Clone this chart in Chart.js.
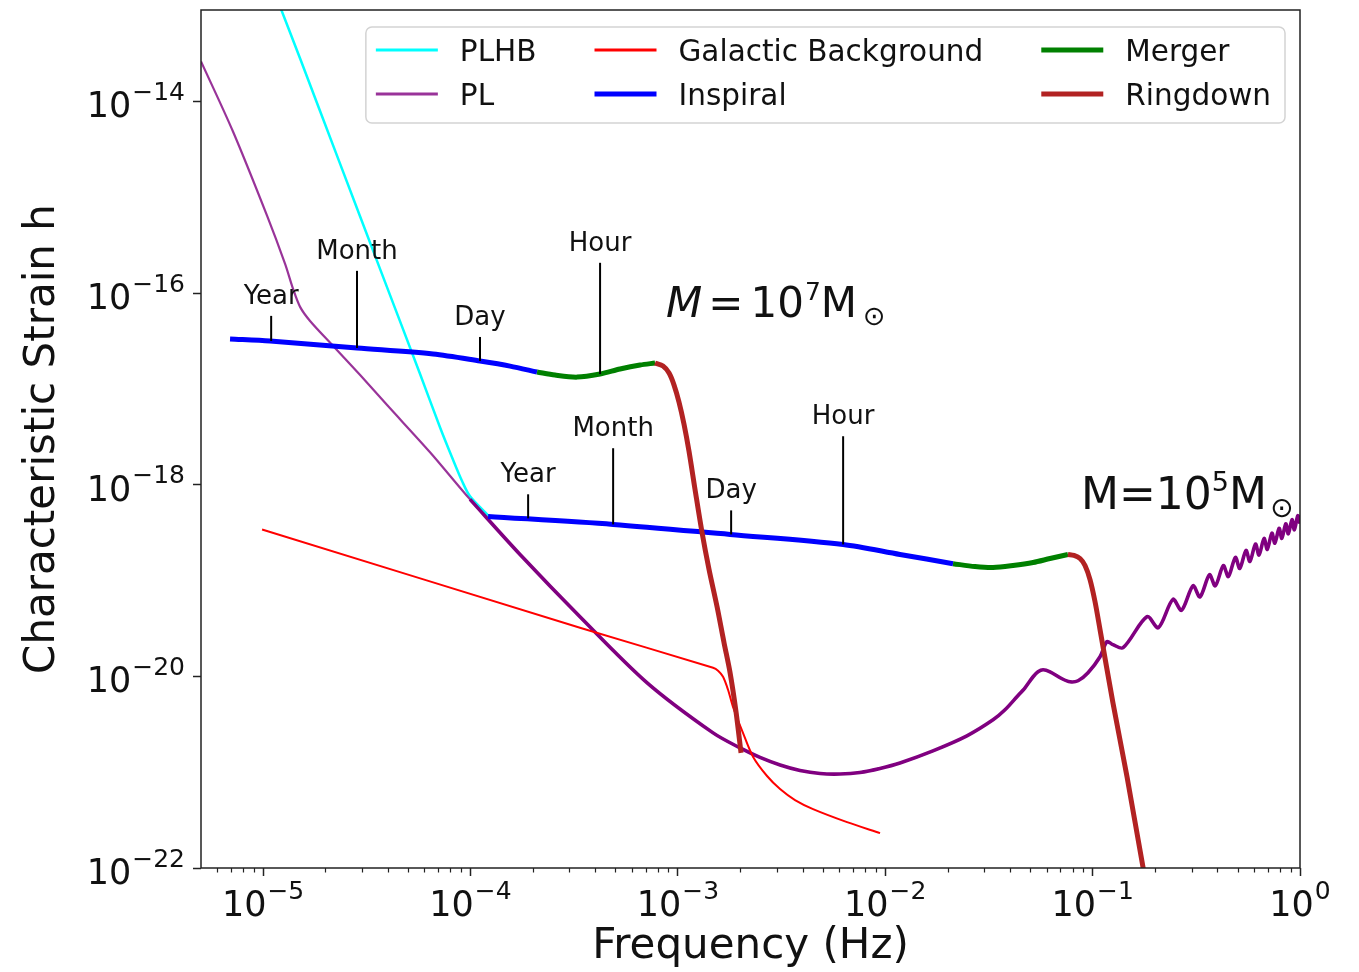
<!DOCTYPE html>
<html>
<head>
<meta charset="utf-8">
<script src="https://cdn.jsdelivr.net/npm/chart.js@4.4.1/dist/chart.umd.min.js"></script>
<style>
  html, body { margin: 0; padding: 0; background: #fff; }
  #wrap { width: 1359px; height: 972px; }
</style>
</head>
<body>
<div id="wrap"><canvas id="strainChart" width="1359" height="972"></canvas></div>
<script>
// frequency in Hz, characteristic strain (dimensionless)

// PL with high-frequency background
var plhbFreq = [1.180e-5, 1.507e-5, 2.350e-5, 3.664e-5, 5.715e-5, 7.129e-5, 8.147e-5, 9.120e-5, 9.954e-5, 1.245e-4]
var plhbH    = [1.112e-13, 2.818e-14, 2.244e-15, 1.791e-16, 1.429e-17, 3.981e-18, 1.936e-18, 1.086e-18, 7.568e-19, 4.560e-19]

// power-law sensitivity
var plFreq = [5.02e-6, 7.16e-6, 1.045e-5, 1.277e-5, 1.395e-5, 1.508e-5, 1.685e-5, 2.178e-5, 2.938e-5, 3.963e-5,
  6.383e-5, 9.954e-5, 1.734e-4, 3.373e-4, 7.112e-4, 1.479e-3, 1.995e-3, 2.490e-3, 3.112e-3, 3.883e-3,
  4.853e-3, 6.054e-3, 7.551e-3, 9.438e-3, 1.178e-2, 1.698e-2, 2.477e-2, 3.311e-2, 3.780e-2, 4.315e-2,
  4.721e-2, 5.164e-2, 5.454e-2, 5.768e-2, 6.232e-2, 7.121e-2, 7.780e-2, 8.504e-2, 9.502e-2, 0.1086,
  0.1172, 0.1253, 0.1403, 0.1830, 0.2074, 0.2440, 0.2684, 0.3050, 0.3294, 0.3660,
  0.3904, 0.4270, 0.4514, 0.4880, 0.5124, 0.5490, 0.5734, 0.6100, 0.6344, 0.6710,
  0.6954, 0.7320, 0.7564, 0.7930, 0.8174, 0.8540, 0.8784, 0.9150, 0.9394, 0.9760,
  1.0]
var plH = [2.618e-14, 4.853e-15, 6.427e-16, 2.018e-16, 1.107e-16, 7.178e-17, 5.117e-17, 2.805e-17, 1.393e-17, 6.776e-18,
  2.183e-18, 7.031e-19, 1.871e-19, 4.198e-20, 8.570e-21, 2.570e-21, 1.791e-21, 1.426e-21, 1.189e-21, 1.042e-21,
  9.683e-22, 9.572e-22, 9.931e-22, 1.094e-21, 1.247e-21, 1.667e-21, 2.393e-21, 3.516e-21, 4.477e-21, 6.124e-21,
  7.603e-21, 9.908e-21, 1.117e-20, 1.172e-20, 1.117e-20, 9.441e-21, 8.770e-21, 8.995e-21, 1.091e-20, 1.603e-20,
  2.301e-20, 2.143e-20, 1.991e-20, 4.198e-20, 3.221e-20, 6.368e-20, 4.887e-20, 8.810e-20, 6.745e-20, 1.148e-19,
  8.810e-20, 1.432e-19, 1.099e-19, 1.742e-19, 1.337e-19, 2.061e-19, 1.581e-19, 2.404e-19, 1.845e-19, 2.754e-19,
  2.113e-19, 3.126e-19, 2.455e-19, 3.508e-19, 2.754e-19, 3.908e-19, 3.069e-19, 4.315e-19, 3.388e-19, 4.742e-19,
  3.945e-19]

// galactic confusion background
var galFreq = [9.89e-6, 3.373e-4, 1.479e-3, 1.563e-3, 1.652e-3, 1.746e-3, 1.845e-3, 2.061e-3, 2.307e-3, 2.692e-3,
  3.111e-3, 3.673e-3, 4.487e-3, 6.546e-3, 9.441e-3]
var galH    = [3.412e-19, 3.221e-20, 1.230e-20, 1.146e-20, 9.908e-21, 7.244e-21, 4.808e-21, 2.570e-21, 1.442e-21, 9.120e-22,
  6.668e-22, 5.117e-22, 4.121e-22, 3.013e-22, 2.312e-22]

// M = 1e7 Msun binary
var insp7Freq = [6.93e-6, 1.081e-5, 2.838e-5, 6.604e-5, 1.112e-4, 1.552e-4, 2.094e-4]
var insp7H    = [3.319e-17, 3.162e-17, 2.673e-17, 2.312e-17, 1.954e-17, 1.730e-17, 1.500e-17]
var merg7Freq = [2.094e-4, 2.558e-4, 3.266e-4, 4.217e-4, 5.264e-4, 6.574e-4, 7.762e-4]
var merg7H    = [1.500e-17, 1.393e-17, 1.327e-17, 1.429e-17, 1.611e-17, 1.774e-17, 1.862e-17]
var ring7Freq = [7.762e-4, 8.484e-4, 9.071e-4, 9.588e-4, 1.013e-3, 1.071e-3, 1.132e-3, 1.210e-3, 1.308e-3, 1.414e-3,
  1.545e-3, 1.670e-3, 1.786e-3, 1.908e-3, 2.017e-3]
var ring7H    = [1.862e-17, 1.730e-17, 1.462e-17, 1.096e-17, 7.278e-18, 4.285e-18, 2.234e-18, 8.954e-19, 3.177e-19, 1.303e-19,
  5.346e-20, 2.244e-20, 1.091e-20, 4.266e-21, 1.589e-21]

// M = 1e5 Msun binary
var insp5Freq = [1.216e-4, 4.875e-4, 1.786e-3, 6.266e-3, 1.178e-2, 2.123e-2]
var insp5H    = [4.667e-19, 3.855e-19, 3.027e-19, 2.382e-19, 1.871e-19, 1.500e-19]
var merg5Freq = [2.123e-2, 2.710e-2, 3.311e-2, 4.131e-2, 5.164e-2, 6.232e-2, 7.603e-2]
var merg5H    = [1.500e-19, 1.400e-19, 1.368e-19, 1.435e-19, 1.542e-19, 1.698e-19, 1.871e-19]
var ring5Freq = [7.603e-2, 8.134e-2, 8.696e-2, 9.192e-2, 9.716e-2, 0.1027, 0.1086, 0.1253, 0.1466, 0.1750, 0.1807]
var ring5H    = [1.871e-19, 1.828e-19, 1.698e-19, 1.435e-19, 1.023e-19, 6.026e-20, 3.069e-20, 5.297e-21, 8.913e-22, 1.019e-22, 7.413e-23]

// time-before-merger markers on the inspirals
var markerNames = ['Year', 'Month', 'Day', 'Hour']
var mark7Freq = [1.094e-5, 2.838e-5, 1.112e-4, 4.217e-4]
var mark7Top  = [5.781e-17, 1.706e-16, 3.483e-17, 2.070e-16]
var mark7Base = [3.162e-17, 2.673e-17, 1.954e-17, 1.429e-17]
var mark5Freq = [1.897e-4, 4.875e-4, 1.807e-3, 6.266e-3]
var mark5Top  = [7.943e-19, 2.404e-18, 5.395e-19, 3.206e-18]
var mark5Base = [4.457e-19, 3.855e-19, 3.027e-19, 2.382e-19]

// mass labels: [freq, strain] of the text start
var mass7At = [8.77e-4, 5.64e-17]
var mass5At = [0.0879, 5.53e-19]

// axis decades that carry labels
var xTickExps = [-5, -4, -3, -2, -1, 0]
var yTickExps = [-14, -16, -18, -20, -22]

var legendOrder = ['PLHB', 'PL', 'Galactic Background', 'Inspiral', 'Merger', 'Ringdown']

var FONT = 'DejaVu Sans'
var INK = '#111'

function pts(freq, h) {
  return freq.map(function(f, i) { return {x: f, y: h[i]} })
}

function curve(label, freq, h, color, width, order) {
  return {
    label: label, data: pts(freq, h), borderColor: color, backgroundColor: color,
    borderWidth: width, pointRadius: 0, fill: false, order: order, clip: 0,
    tension: 0.3, borderJoinStyle: 'round'
  }
}

var datasets = [
  curve('PLHB', plhbFreq, plhbH, '#00ffff', 2.5, 90),
  curve('PL', plFreq, plH, 'rgba(128,0,128,0.8)', 2.2, 80),
  curve('_sens', plFreq.slice(11), plH.slice(11), '#800080', 3.6, 75),
  curve('Galactic Background', galFreq, galH, '#ff0000', 2, 70),
  curve('Inspiral', insp5Freq, insp5H, '#0000ff', 5, 60),
  curve('Merger', merg5Freq, merg5H, '#008000', 5, 59),
  curve('Ringdown', ring5Freq, ring5H, '#b22222', 5, 58),
  curve('Inspiral', insp7Freq, insp7H, '#0000ff', 5, 50),
  curve('Merger', merg7Freq, merg7H, '#008000', 5, 49),
  curve('Ringdown', ring7Freq, ring7H, '#b22222', 5, 48)
]

// vertical marker ticks
function addMarkers(freq, base, top) {
  freq.forEach(function(f, i) {
    datasets.push({
      label: '_marker', data: [{x: f, y: base[i]}, {x: f, y: top[i]}],
      borderColor: '#000', borderWidth: 2, pointRadius: 0, order: 10, clip: 0
    })
  })
}
addMarkers(mark7Freq, mark7Base, mark7Top)
addMarkers(mark5Freq, mark5Base, mark5Top)

// 10 with a raised exponent
function drawPower(ctx, exp, x, y, align, size) {
  var supSize = Math.round(size * 0.7)
  var sup = (exp < 0 ? '\u2212' : '') + Math.abs(exp)
  ctx.font = size + 'px ' + FONT
  var wb = ctx.measureText('10').width
  ctx.font = supSize + 'px ' + FONT
  var ws = ctx.measureText(sup).width
  var left = align === 'right' ? x - wb - ws - 1 : x - (wb + ws + 1) / 2
  ctx.font = size + 'px ' + FONT
  ctx.fillText('10', left, y)
  ctx.font = supSize + 'px ' + FONT
  ctx.fillText(sup, left + wb + 1, y - size * 0.5)
}

function drawPieces(ctx, x, y, pieces) {
  var pen = x
  pieces.forEach(function(p) {
    pen += p.gap || 0
    ctx.font = (p.italic ? 'italic ' : '') + p.size + 'px ' + FONT
    ctx.fillText(p.t, pen, y + (p.dy || 0))
    pen += ctx.measureText(p.t).width
  })
}

var decor = {
  id: 'decor',
  afterDatasetsDraw: function(chart) {
    var ctx = chart.ctx, area = chart.chartArea
    var xs = chart.scales.x, ys = chart.scales.y
    ctx.save()
    ctx.fillStyle = INK
    ctx.textBaseline = 'alphabetic'

    // marker names above each tick
    ctx.font = '26px ' + FONT
    ctx.textAlign = 'center'
    function names(freq, top) {
      freq.forEach(function(f, i) {
        ctx.fillText(markerNames[i], xs.getPixelForValue(f), ys.getPixelForValue(top[i]) - 12)
      })
    }
    names(mark7Freq, mark7Top)
    names(mark5Freq, mark5Top)

    // mass labels
    ctx.textAlign = 'left'
    drawPieces(ctx, xs.getPixelForValue(mass7At[0]), ys.getPixelForValue(mass7At[1]), [
      {t: 'M', size: 42, italic: true},
      {t: '=', size: 42, gap: 6},
      {t: '10', size: 42, gap: 7},
      {t: '7', size: 25, gap: 1, dy: -17},
      {t: 'M', size: 42},
      {t: '\u2299', size: 27, gap: 6, dy: 8}
    ])
    drawPieces(ctx, xs.getPixelForValue(mass5At[0]), ys.getPixelForValue(mass5At[1]), [
      {t: 'M', size: 44},
      {t: '=', size: 44},
      {t: '10', size: 44},
      {t: '5', size: 27, dy: -18},
      {t: 'M', size: 44},
      {t: '\u2299', size: 28, gap: 3, dy: 8}
    ])

    // frame
    ctx.strokeStyle = '#222'
    ctx.lineWidth = 1.5
    ctx.strokeRect(area.left, area.top, area.right - area.left, area.bottom - area.top)

    // minor ticks on the frequency axis
    ctx.lineWidth = 1.2
    ctx.beginPath()
    for (var e = -6; e < 0; e++) {
      for (var m = 2; m <= 9; m++) {
        var v = m * Math.pow(10, e)
        if (v < xs.min || v > xs.max) continue
        var px = Math.round(xs.getPixelForValue(v)) + 0.5
        ctx.moveTo(px, area.bottom)
        ctx.lineTo(px, area.bottom + 4.5)
      }
    }
    ctx.stroke()

    // tick labels
    ctx.fillStyle = INK
    xTickExps.forEach(function(e) {
      drawPower(ctx, e, xs.getPixelForValue(Math.pow(10, e)), area.bottom + 48, 'center', 35)
    })
    yTickExps.forEach(function(e) {
      drawPower(ctx, e, area.left - 16, ys.getPixelForValue(Math.pow(10, e)) + 16, 'right', 35)
    })

    // legend, three columns of two
    var fs = 29.5
    ctx.font = fs + 'px ' + FONT
    var cols = [legendOrder.slice(0, 2), legendOrder.slice(2, 4), legendOrder.slice(4, 6)]
    var handle = 62, textPad = 22, colGap = 58, padL = 10, padR = 14
    var widths = cols.map(function(c) {
      return Math.max.apply(null, c.map(function(t) { return ctx.measureText(t).width }))
    })
    var boxW = padL + padR
    widths.forEach(function(w, i) { boxW += handle + textPad + w + (i < 2 ? colGap : 0) })
    var boxH = 96
    var bx = area.right - 15 - boxW, by = area.top + 17
    ctx.beginPath()
    ctx.roundRect(bx, by, boxW, boxH, 6)
    ctx.fillStyle = 'rgba(255,255,255,0.8)'
    ctx.fill()
    ctx.strokeStyle = '#d3d3d3'
    ctx.lineWidth = 1.5
    ctx.stroke()
    var cx = bx + padL
    cols.forEach(function(c, ci) {
      c.forEach(function(name, ri) {
        var ds = chart.data.datasets.find(function(d) { return d.label === name })
        var ry = by + 23 + ri * 44
        ctx.strokeStyle = ds.borderColor
        ctx.lineWidth = Math.max(ds.borderWidth, 3)
        ctx.beginPath()
        ctx.moveTo(cx, ry)
        ctx.lineTo(cx + handle, ry)
        ctx.stroke()
        ctx.fillStyle = INK
        ctx.fillText(name, cx + handle + textPad, ry + 10.5)
      })
      cx += handle + textPad + widths[ci] + colGap
    })
    ctx.restore()
  }
}

new Chart(document.getElementById('strainChart'), {
  type: 'line',
  data: {datasets: datasets},
  plugins: [decor],
  options: {
    responsive: false,
    animation: false,
    devicePixelRatio: 1,
    layout: {padding: {top: 10, right: 59, left: 0, bottom: 0}},
    plugins: {legend: {display: false}, tooltip: {enabled: false}},
    scales: {
      x: {
        type: 'logarithmic',
        min: 5.02e-6,
        max: 1,
        afterBuildTicks: function(s) {
          s.ticks = xTickExps.map(function(e) { return {value: Math.pow(10, e)} })
        },
        afterFit: function(s) { s.height = 104 },
        ticks: {display: false},
        border: {display: false},
        grid: {drawOnChartArea: false, drawTicks: true, tickLength: 8, tickColor: '#222', tickWidth: 1.5},
        title: {display: true, text: 'Frequency (Hz)', color: INK, font: {family: FONT, size: 42}, padding: 0}
      },
      y: {
        type: 'logarithmic',
        min: 1e-22,
        max: 9.0e-14,
        afterBuildTicks: function(s) {
          s.ticks = yTickExps.map(function(e) { return {value: Math.pow(10, e)} })
        },
        afterFit: function(s) { s.width = 201 },
        ticks: {display: false},
        border: {display: false},
        grid: {drawOnChartArea: false, drawTicks: true, tickLength: 8, tickColor: '#222', tickWidth: 1.5},
        title: {display: true, text: 'Characteristic Strain h', color: INK, font: {family: FONT, size: 42}, padding: {top: 18, bottom: 0}}
      }
    }
  }
})
</script>
</body>
</html>
